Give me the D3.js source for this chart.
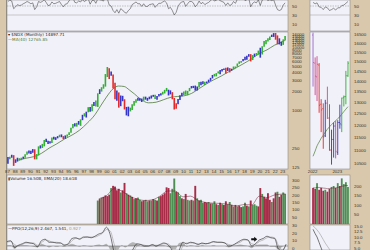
<!DOCTYPE html>
<html>
<head>
<meta charset="utf-8">
<script src="https://cdn.jsdelivr.net/npm/d3@7"></script>
<style>
  body { margin: 0; background: #fff; }
  svg { display: block; }
  .lbl { font-family: "Liberation Sans", Arial, sans-serif; font-size: 4.4px; fill: #333; }
  .legend { font-family: "DejaVu Sans", sans-serif; font-size: 4.1px; fill: #222; }
</style>
</head>
<body>
<svg id="chart" width="370" height="250"></svg>
<script>
/*
  Monthly $NDX chart in the StockCharts style: RSI strip, price panel with
  MA(40), volume and PPO, plus a zoomed panel of the last 18 months.
*/

// ---- data: quarterly, 1987 Q1 .. 2023 Q2 ----
var priceHigh = [
  180, 182, 195, 192,   165, 175, 172, 175,
  182, 198, 220, 228,   225, 240, 238, 200,
  265, 275, 290, 335,   350, 325, 320, 365,
  375, 370, 385, 405,   410, 385, 395, 410,
  445, 525, 600, 615,   625, 670, 710, 840,
  890, 940, 1110, 1120, 1230, 1345, 1420, 1840,
  2140, 2300, 2560, 3720, 4816, 4600, 4100, 3650,
  2700, 2040, 1900, 1700, 1680, 1480, 1120, 1130,
  1090, 1230, 1390, 1480, 1560, 1530, 1520, 1630,
  1630, 1560, 1630, 1700, 1740, 1750, 1670, 1800,
  1850, 1950, 2090, 2240, 2100, 2050, 1920, 1550,
  1280, 1490, 1720, 1880, 1970, 2040, 2010, 2240,
  2400, 2420, 2440, 2370, 2780, 2800, 2850, 2800,
  2830, 3030, 3240, 3600, 3740, 3850, 4100, 4300,
  4480, 4550, 4700, 4740, 4620, 4520, 4900, 4900,
  5470, 5900, 6000, 6450, 7020, 7280, 7700, 7700,
  7440, 7850, 8030, 8760, 9720, 10300, 12440, 12900,
  13800, 14600, 15700, 16600, 16660, 15265, 13720, 12170,
  13200, 15000
];
var priceLow = [
  140, 165, 175, 130,   145, 152, 158, 160,
  168, 175, 195, 205,   200, 210, 165, 165,
  190, 245, 250, 265,   310, 290, 295, 300,
  340, 335, 355, 370,   370, 345, 350, 375,
  400, 435, 515, 545,   545, 585, 560, 690,
  790, 760, 920, 935,   960, 1160, 1140, 1120,
  1790, 1960, 2180, 2350, 3340, 3100, 3500, 2200,
  1480, 1400, 1090, 1150, 1380, 1020, 820, 795,
  950, 1000, 1170, 1300, 1400, 1400, 1340, 1400,
  1460, 1400, 1480, 1520, 1620, 1500, 1450, 1640,
  1700, 1760, 1830, 1980, 1700, 1770, 1480, 1018,
  1043, 1230, 1440, 1660, 1720, 1750, 1720, 1990,
  2200, 2230, 2030, 2040, 2280, 2470, 2560, 2500,
  2650, 2750, 2900, 3170, 3400, 3420, 3800, 3700,
  4090, 4300, 3800, 4170, 3950, 4200, 4400, 4600,
  4860, 5400, 5600, 5950, 6170, 6300, 7000, 5900,
  6200, 6980, 7300, 7550, 6771, 7600, 10100, 11000,
  12200, 12900, 14400, 14450, 13046, 11037, 10970, 10440,
  10800, 12800
];
// impulse colour of each quarter: g = green, r = red, b = blue
var priceColors = "bgbrbbggbg" + "gbbbrggbgg" + "bbbgbbbgbr" + "bggggbgbgb" +
  "gbgbgbggbg" + "gggrbrrbrb" + "brbbggggbb" + "bgbbbbbgbb" + "bgggbbrrrb" +
  "bbggggbbbb" + "gbbgbbbbgg" + "gbbbrbrbgg" + "gggbbbbrgb" + "ggbgggggbb" + "rrbbgg";

var rsiValues = [
  60, 63, 61, 44,  48, 53, 51, 52,  55, 57, 60, 58,  55, 57, 42, 48,
  60, 58, 60, 64,  58, 51, 52, 59,  55, 56, 58, 60,  53, 48, 54, 55,
  62, 66, 68, 58,  57, 61, 59, 64,  60, 63, 66, 54,  62, 63, 56, 66,
  64, 63, 61, 70,  66, 52, 50, 40,  35, 42, 34, 44,  41, 36, 34, 40,
  44, 53, 56, 59,  55, 55, 49, 55,  49, 49, 53, 54,  55, 47, 52, 56,
  56, 59, 61, 57,  44, 47, 40, 30,  36, 49, 56, 59,  60, 49, 55, 60,
  60, 57, 48, 53,  61, 55, 58, 53,  56, 58, 62, 66,  61, 63, 65, 62,
  60, 58, 51, 57,  51, 53, 60, 56,  65, 64, 66, 68,  62, 64, 67, 48,
  56, 59, 57, 64,  51, 63, 65, 66,  62, 64, 62, 64,  52, 42, 40, 42,
  52, 57
];

// MA(40) (decimal year, value)
var maYears = [1988.5, 1989.5, 1990.5, 1991.5, 1992.5, 1993.5, 1994.5, 1995.5,
  1996.5, 1997.5, 1998.5, 1999.2, 2000, 2000.8, 2001.6, 2002.3, 2003, 2003.7,
  2004.5, 2005.5, 2006.5, 2007.5, 2008.5, 2009.3, 2010.2, 2011.2, 2012.2, 2013,
  2014, 2015, 2016, 2017, 2018, 2019, 2020, 2021, 2022, 2022.7, 2023.45];
var maValues = [160, 172, 182, 205, 248, 290, 345, 400, 480, 620, 840, 1120,
  1600, 2150, 2400, 2360, 2080, 1800, 1480, 1300, 1330, 1460, 1600, 1640, 1680,
  1840, 2200, 2560, 3000, 3450, 4050, 4700, 5500, 6500, 7900, 9000, 10700,
  11600, 12800];

// volume, quarterly from 1998 Q4
var volValues = [
  160,
  170, 180, 185, 195,  190, 200, 245, 260,  255, 230, 240, 215,
  230, 280, 210, 200,  195, 185, 170, 175,  180, 165, 155, 160,
  165, 155, 160, 160,  170, 165, 160, 185,  190, 200, 210, 250,
  245, 210, 240, 310,  220, 215, 190, 175,  170, 205, 165, 160,
  165, 160, 260, 175,  160, 165, 145, 150,  145, 150, 140, 140,
  155, 135, 130, 145,  135, 130, 155, 135,  150, 130, 120, 130,
  120, 125, 115, 120,  145, 125, 120, 160,  130, 135, 125, 120,
  245, 205, 185, 175,  210, 165, 150, 175,  215, 220, 185, 200,
  215, 205
];
var volColors = "grgrrrrgrr" + "rrgrrgrgrg" + "rggrrggrgr" + "grgrrrrrgg" +
  "grggrgrggr" + "grgrggrrgr" + "ggrgrgrrgg" + "rgrgrrggrg" + "rgggrrgrrr" + "rgrrgrrgg";
var emaYears = [1999, 2000, 2001, 2002, 2003, 2004, 2005, 2006, 2007, 2008, 2009,
  2010, 2011, 2012, 2013, 2014, 2015, 2016, 2017, 2018, 2019, 2020, 2021, 2022, 2023.4];
var emaValues = [172, 192, 240, 225, 190, 170, 160, 165, 190, 225, 225, 185, 190,
  160, 147, 142, 140, 134, 123, 133, 130, 190, 180, 198, 205];

// PPO(12,26,9), half-yearly from 1987
var ppoValues = [6, 7, -2, 1, 3, 5, 4, 3, -1, 7, 9, 5, 5, 4, 4, 1, 3, 10, 11, 9,
  12, 12, 11, 13, 16, 18, 25, 15, -8, -20, -18, -22, -15, -4, 3, 2, 0, 0, 2, 0,
  2, 4, 2, -4, -15, -6, 5, 3, 5, 4, 2, 4, 3, 4, 6, 5, 5, 4, 0, 1,
  4, 7, 9, 8, 0, 3, 8, 10, 13, 11, 10, -4, -6, 2.5];
var ppoSignal = [5, 6, 2, 0, 2, 4, 4, 4, 1, 4, 8, 7, 5, 5, 4, 2, 2, 7, 10, 10,
  11, 12, 12, 12, 14, 17, 22, 20, 3, -14, -19, -20, -18, -9, 0, 2, 1, 0, 1, 1,
  1, 3, 3, -1, -10, -10, 0, 4, 4, 4, 3, 3, 3, 4, 5, 5, 5, 4, 2, 1,
  3, 5, 8, 8, 3, 2, 6, 8, 11, 12, 11, 1, -5, 1.5];
var ppoHist = [1, 1, -4, 1, 1, 1, 0, -1, -2, 3, 1, -2, 0, -1, 0, -1, 1, 3, 1, -1,
  1, 0, -1, 1, 2, 1, 3, -5, -11, -6, 1, -2, 3, 5, 3, 0, -1, 0, 1, -1,
  1, 1, -1, -3, -5, 4, 5, -1, 1, 0, -1, 1, 0, 0, 1, 0, 0, 0, -2, 0,
  1, 2, 1, 0, -3, 1, 2, 2, 2, -1, -1, -5, -1, 1];

// ---- zoom panel: monthly, Jan 2022 .. Jun 2023 ----
var zOpen  = [16440, 14900, 14200, 14800, 12900, 12700, 11550, 12950, 12300,
  11000, 11400, 11950, 10900, 12100, 12000, 13200, 13250, 14250];
var zHigh  = [16580, 15200, 15265, 14900, 13130, 12940, 13100, 13720, 12900,
  11800, 12100, 12170, 12200, 12880, 13200, 13300, 14500, 15000];
var zLow   = [13725, 13320, 13046, 12520, 11700, 11037, 11500, 12260, 10970,
  10440, 10700, 10670, 10800, 11840, 11700, 12800, 12900, 14200];
var zClose = [14930, 14237, 14839, 12855, 12643, 11503, 12948, 12272, 10971,
  11405, 11951, 10939, 12101, 12042, 13181, 13246, 14254, 14897];
var zColors = "pmmrrrbmrbbmbbgggg";
var zMa = [10750, 10950, 11150, 11300, 11450, 11570, 11700, 11820, 11920, 12010,
  12100, 12180, 12260, 12350, 12460, 12570, 12680, 12790];
var zVol = [190, 185, 215, 180, 190, 175, 180, 170, 185, 195, 200, 190, 215, 200,
  240, 210, 220, 195];
var zVolColors = "rrgrrrgrrggrgrgggg";
var zVolEma = [190, 190, 193, 192, 191, 189, 188, 186, 186, 188, 190, 190, 193,
  194, 199, 200, 203, 202];
var zRsi = [58, 55, 57, 48, 47, 42, 48, 46, 40, 42, 45, 41, 46, 46, 51, 52, 56, 60];
var zPpo = [13.5, 11.5, 10, 7.5, 5, 2.5, 1.5, 1, -1, -2.5, -2.5, -3.5, -2.5, -1.5,
  0, 0.8, 1.8, 2.5];
var zSignal = [15, 14.2, 13.2, 12, 10.5, 8.8, 7.2, 5.8, 4.4, 3, 1.8, 0.8, 0, -0.5,
  -0.4, -0.2, 0.3, 0.9];

// axis labels
var priceTicks = [125, 250, 1000, 2000, 3000, 4000, 5000, 6000, 7000, 8000, 9000,
  10000, 11000, 12000, 13000, 14000, 15000, 16000];
var zPriceTicks = [10500, 11000, 11500, 12000, 12500, 13000, 13500, 14000, 14500,
  15000, 15500, 16000, 16500];
var rsiTicks = [50, 30, 10];
var volTicks = [50, 100, 150, 200, 250, 300];
var zVolTicks = [50, 100, 150, 200];
var ppoTicks = [0, 10, 20, 30];
var zPpoTicks = [5, 7.5, 10, 12.5, 15];

// ---- look ----
var TAN = "#d9c8ab", PANEL = "#f1f1f9", BORDER = "#8c8c8c";
var PRICE_COLORS = {g: "#31b031", r: "#e22a2a", b: "#3434c6", p: "#9c64c8", m: "#cf4a8c"};
var VOL_COLORS = {g: "#4e8e52", r: "#a82b47"};
var MA_COLOR = "#4f7a38";

var leftX = [7, 288], zoomX = [310, 350];
var rows = {rsi: [0, 31], price: [32, 169], vol: [175, 224], ppo: [225, 250]};

function quarterDate(i) { return new Date(1987, i * 3 + 1, 15); }
function halfDate(i) { return new Date(1987, i * 6, 1); }
function monthDate(i) { return new Date(2022, i, 15); }
function yearDate(y) {
  var yr = Math.floor(y);
  return new Date(yr, Math.round((y - yr) * 12), 1);
}

var svg = d3.select("#chart");

// scales
var x = d3.scaleTime().domain([new Date(1987, 0, 1), new Date(2023, 9, 1)]).range(leftX);
var xZ = d3.scaleTime().domain([new Date(2021, 11, 1), new Date(2023, 6, 15)]).range(zoomX);
var yPrice = d3.scaleLog().domain([115.9, 17285]).range([169, 32]);
var yPriceZ = d3.scaleLog().domain([10281, 16616]).range([169, 32]);
var yRsi = d3.scaleLinear().domain([0, 100]).range([28.5, -16.5]);
var yVol = d3.scaleLinear().domain([0, 300]).range([224, 180]);
var yVolZ = d3.scaleLinear().domain([0, 200]).range([224, 186]);
var yPpo = d3.scaleLinear().domain([0, 30]).range([246, 223.5]);
var yPpoZ = d3.scaleLinear().domain([5, 15]).range([248, 226]);

// background, panels and clip paths
svg.append("rect").attr("width", 370).attr("height", 250).attr("fill", TAN);
var defs = svg.append("defs");

function makePanel(name, xr, yr) {
  /* Draws one panel background and returns a clipped group for it. */
  defs.append("clipPath").attr("id", "clip-" + name)
    .append("rect").attr("x", xr[0]).attr("y", yr[0])
    .attr("width", xr[1] - xr[0]).attr("height", yr[1] - yr[0]);
  svg.append("rect").attr("x", xr[0]).attr("y", yr[0])
    .attr("width", xr[1] - xr[0]).attr("height", yr[1] - yr[0])
    .attr("fill", PANEL).attr("stroke", BORDER).attr("stroke-width", 0.6);
  return svg.append("g").attr("clip-path", "url(#clip-" + name + ")");
}

var gRsi = makePanel("rsi", leftX, rows.rsi);
var gPrice = makePanel("price", leftX, rows.price);
var gVol = makePanel("vol", leftX, rows.vol);
var gPpo = makePanel("ppo", leftX, rows.ppo);
var zRsiG = makePanel("zrsi", zoomX, rows.rsi);
var zPriceG = makePanel("zprice", zoomX, rows.price);
var zVolG = makePanel("zvol", zoomX, rows.vol);
var zPpoG = makePanel("zppo", zoomX, rows.ppo);

svg.append("line").attr("x1", 6.5).attr("x2", 6.5).attr("y1", 0).attr("y2", 250)
  .attr("stroke", "#6e6e6e").attr("stroke-width", 0.6);

// ---- RSI strip ----
function rsiGuides(g, xr) {
  /* 50 dashed level and 30 solid level. */
  g.append("line").attr("x1", xr[0]).attr("x2", xr[1])
    .attr("y1", yRsi(50)).attr("y2", yRsi(50))
    .attr("stroke", "#777").attr("stroke-width", 0.4).attr("stroke-dasharray", "1.5,1");
  g.append("line").attr("x1", xr[0]).attr("x2", xr[1])
    .attr("y1", yRsi(30)).attr("y2", yRsi(30))
    .attr("stroke", "#999").attr("stroke-width", 0.5);
}
rsiGuides(gRsi, leftX);
rsiGuides(zRsiG, zoomX);

gRsi.append("path")
  .attr("fill", "none").attr("stroke", "#3a3a3a").attr("stroke-width", 0.55)
  .attr("d", d3.line()
    .x(function(d, i) { return x(quarterDate(i)); })
    .y(function(d) { return yRsi(d); })(rsiValues));

zRsiG.append("path")
  .attr("fill", "none").attr("stroke", "#3a3a3a").attr("stroke-width", 0.55)
  .attr("d", d3.line()
    .x(function(d, i) { return xZ(monthDate(i)); })
    .y(function(d) { return yRsi(d); })(zRsi));

// ---- price panel ----
gPrice.append("path")
  .attr("fill", "none").attr("stroke", MA_COLOR).attr("stroke-width", 0.8)
  .attr("d", d3.line().curve(d3.curveMonotoneX)
    .x(function(d, i) { return x(yearDate(maYears[i])); })
    .y(function(d) { return yPrice(d); })(maValues));

gPrice.selectAll(".bar").data(priceHigh).enter().append("line")
  .attr("class", "bar")
  .attr("x1", function(d, i) { return x(quarterDate(i)); })
  .attr("x2", function(d, i) { return x(quarterDate(i)); })
  .attr("y1", function(d) { return yPrice(d); })
  .attr("y2", function(d, i) { return yPrice(priceLow[i]); })
  .attr("stroke", function(d, i) { return PRICE_COLORS[priceColors[i]]; })
  .attr("stroke-width", 1.6);

// zoom panel: MA then OHLC bars
zPriceG.append("path")
  .attr("fill", "none").attr("stroke", MA_COLOR).attr("stroke-width", 0.7)
  .attr("d", d3.line().curve(d3.curveMonotoneX)
    .x(function(d, i) { return xZ(monthDate(i)); })
    .y(function(d) { return yPriceZ(d); })(zMa));

var ohlc = zPriceG.selectAll(".ohlc").data(zHigh).enter().append("g")
  .attr("class", "ohlc")
  .attr("stroke", function(d, i) { return PRICE_COLORS[zColors[i]]; })
  .attr("stroke-width", 0.9);
ohlc.append("line")
  .attr("x1", function(d, i) { return xZ(monthDate(i)); })
  .attr("x2", function(d, i) { return xZ(monthDate(i)); })
  .attr("y1", function(d) { return yPriceZ(d); })
  .attr("y2", function(d, i) { return yPriceZ(zLow[i]); });
ohlc.append("line")
  .attr("x1", function(d, i) { return xZ(monthDate(i)) - 0.9; })
  .attr("x2", function(d, i) { return xZ(monthDate(i)); })
  .attr("y1", function(d, i) { return yPriceZ(zOpen[i]); })
  .attr("y2", function(d, i) { return yPriceZ(zOpen[i]); });
ohlc.append("line")
  .attr("x1", function(d, i) { return xZ(monthDate(i)); })
  .attr("x2", function(d, i) { return xZ(monthDate(i)) + 0.9; })
  .attr("y1", function(d, i) { return yPriceZ(zClose[i]); })
  .attr("y2", function(d, i) { return yPriceZ(zClose[i]); });

// legend
svg.append("text").attr("class", "legend").attr("x", 8).attr("y", 36)
  .text("\u25BE $NDX (Monthly) 14897.71");
svg.append("text").attr("class", "legend").attr("x", 8).attr("y", 40.5)
  .style("fill", MA_COLOR).text("\u2014MA(40) 12765.85");

// ---- volume ----
gVol.selectAll(".vol").data(volValues).enter().append("rect")
  .attr("class", "vol")
  .attr("x", function(d, i) { return x(quarterDate(47 + i)) - 0.95; })
  .attr("width", 1.9)
  .attr("y", function(d) { return yVol(d); })
  .attr("height", function(d) { return yVol(0) - yVol(d); })
  .attr("fill", function(d, i) { return VOL_COLORS[volColors[i]]; });

gVol.append("path")
  .attr("fill", "none").attr("stroke", "#6a1d2c").attr("stroke-width", 0.5)
  .attr("d", d3.line().curve(d3.curveMonotoneX)
    .x(function(d, i) { return x(yearDate(emaYears[i])); })
    .y(function(d) { return yVol(d); })(emaValues));

zVolG.selectAll(".zvol").data(zVol).enter().append("rect")
  .attr("class", "zvol")
  .attr("x", function(d, i) { return xZ(monthDate(i)) - 0.9; })
  .attr("width", 1.8)
  .attr("y", function(d) { return yVolZ(d); })
  .attr("height", function(d) { return yVolZ(0) - yVolZ(d); })
  .attr("fill", function(d, i) { return VOL_COLORS[zVolColors[i]]; });

zVolG.append("path")
  .attr("fill", "none").attr("stroke", "#6a1d2c").attr("stroke-width", 0.5)
  .attr("d", d3.line().curve(d3.curveMonotoneX)
    .x(function(d, i) { return xZ(monthDate(i)); })
    .y(function(d) { return yVolZ(d); })(zVolEma));

var volLegend = svg.append("text").attr("class", "legend").attr("x", 8).attr("y", 179.5);
volLegend.append("tspan").style("fill", "#555").text("\u25AE");
volLegend.append("tspan").text("Volume 16.50B, EMA(20) 18.61B");

// ---- PPO ----
gPpo.append("path")
  .attr("fill", "#b4b4b4")
  .attr("d", d3.area().curve(d3.curveMonotoneX)
    .x(function(d, i) { return x(halfDate(i)); })
    .y0(yPpo(0))
    .y1(function(d) { return yPpo(d); })(ppoHist));

gPpo.append("line").attr("x1", leftX[0]).attr("x2", leftX[1])
  .attr("y1", yPpo(0)).attr("y2", yPpo(0))
  .attr("stroke", "#555").attr("stroke-width", 0.5);

gPpo.append("path")
  .attr("fill", "none").attr("stroke", "#9a9a9a").attr("stroke-width", 0.6)
  .attr("d", d3.line().curve(d3.curveMonotoneX)
    .x(function(d, i) { return x(halfDate(i)); })
    .y(function(d) { return yPpo(d); })(ppoSignal));

gPpo.append("path")
  .attr("fill", "none").attr("stroke", "#222").attr("stroke-width", 0.6)
  .attr("d", d3.line().curve(d3.curveMonotoneX)
    .x(function(d, i) { return x(halfDate(i)); })
    .y(function(d) { return yPpo(d); })(ppoValues));

// annotation arrow in the PPO panel
gPpo.append("path")
  .attr("transform", "translate(" + x(yearDate(2019.3)) + "," + yPpo(9) + ")")
  .attr("d", "M-3,-1L0,-1L0,-2.4L3,0L0,2.4L0,1L-3,1Z")
  .attr("fill", "#111");

zPpoG.append("path")
  .attr("fill", "none").attr("stroke", "#9a9a9a").attr("stroke-width", 0.6)
  .attr("d", d3.line()
    .x(function(d, i) { return xZ(monthDate(i)); })
    .y(function(d) { return yPpoZ(d); })(zSignal));
zPpoG.append("path")
  .attr("fill", "none").attr("stroke", "#222").attr("stroke-width", 0.6)
  .attr("d", d3.line()
    .x(function(d, i) { return xZ(monthDate(i)); })
    .y(function(d) { return yPpoZ(d); })(zPpo));

var ppoLegend = svg.append("text").attr("class", "legend").attr("x", 8).attr("y", 229.5);
ppoLegend.append("tspan").text("\u2014PPO(12,26,9) 2.467, 1.541, ");
ppoLegend.append("tspan").style("fill", "#999").text("0.927");

// ---- axes ----
function rightAxis(scale, ticks, xPos, fmt, dy) {
  /* Axis labels in the tan column right of a panel. */
  var g = svg.append("g")
    .attr("transform", "translate(" + xPos + ",0)")
    .call(d3.axisRight(scale).tickValues(ticks).tickFormat(fmt)
      .tickSize(0).tickPadding(4));
  g.select(".domain").remove();
  g.selectAll("text").attr("class", "lbl");
  if (dy) g.selectAll("text").attr("dy", dy);
  return g;
}

var intFmt = d3.format("d");
rightAxis(yRsi, rsiTicks, leftX[1], intFmt);
rightAxis(yRsi, rsiTicks, zoomX[1], intFmt);
rightAxis(yPrice, priceTicks, leftX[1], intFmt);
rightAxis(yPriceZ, zPriceTicks, zoomX[1], intFmt);
rightAxis(yVol, volTicks, leftX[1], intFmt);
rightAxis(yVolZ, zVolTicks, zoomX[1], intFmt);
rightAxis(yPpo, ppoTicks, leftX[1], intFmt, "0.75em");
rightAxis(yPpoZ, zPpoTicks, zoomX[1], d3.format(".1f"));

function dateAxis(scale, fmt) {
  /* Year labels on the tan strip under the price panel. */
  var g = svg.append("g")
    .attr("transform", "translate(0," + rows.price[1] + ")")
    .call(d3.axisBottom(scale).ticks(d3.timeYear.every(1)).tickFormat(fmt)
      .tickSize(0).tickPadding(1.2));
  g.select(".domain").remove();
  g.selectAll("text").attr("class", "lbl");
}
dateAxis(x, d3.timeFormat("%y"));
dateAxis(xZ, d3.timeFormat("%Y"));
</script>
</body>
</html>
